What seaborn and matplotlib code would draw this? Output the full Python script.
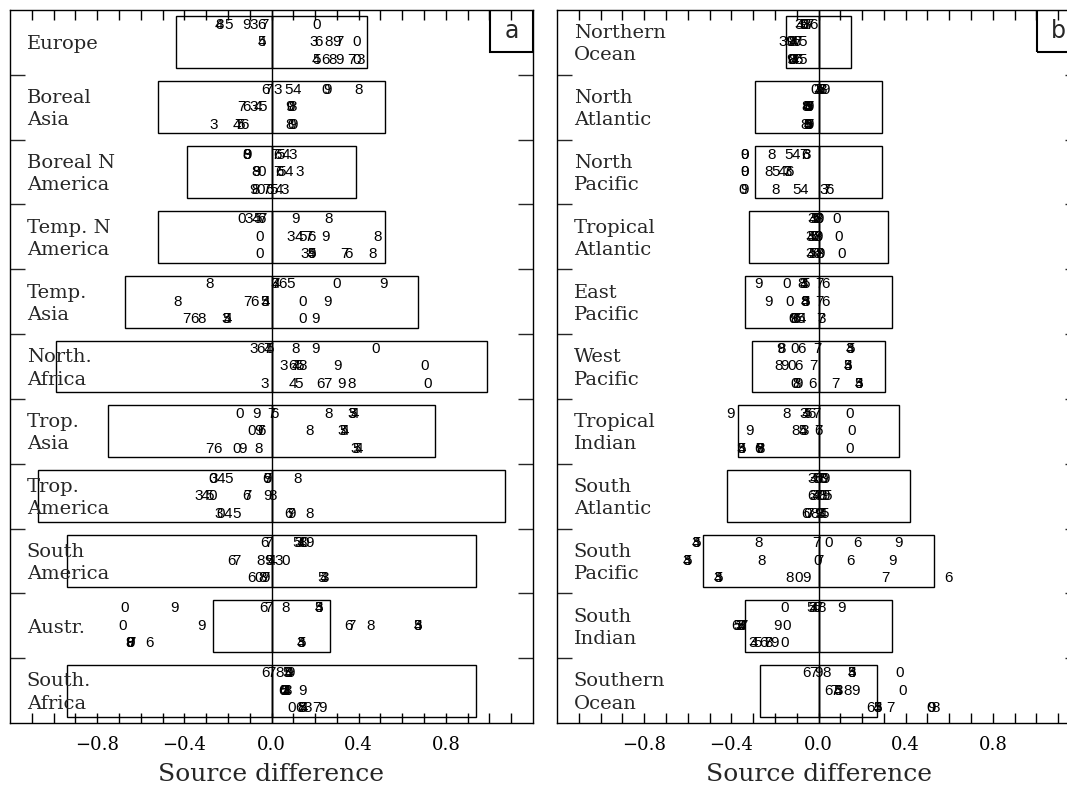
import matplotlib
matplotlib.use("Agg")
import matplotlib.pyplot as plt
from matplotlib.patches import Rectangle
import numpy as np
import pandas as pd
import seaborn as sns

# digit markers, one per experiment; every value list below follows this order
DIGITS = ["3", "4", "5", "6", "7", "8", "9", "0"]

# ---------------------------------------------------------------------------
# Panel a: land regions (three rows of source differences per region)
# ---------------------------------------------------------------------------
REGIONS_A = ["Europe", "Boreal\nAsia", "Boreal N\nAmerica", "Temp. N\nAmerica",
             "Temp.\nAsia", "North.\nAfrica", "Trop.\nAsia", "Trop.\nAmerica",
             "South\nAmerica", "Austr.", "South.\nAfrica"]
BOX_A = [0.44, 0.52, 0.39, 0.52, 0.67, 0.99, 0.75, 1.07, 0.94, 0.27, 0.94]

EUROPE = [[-0.083, -0.243, -0.195, -0.048, -0.032, -0.237, -0.115, 0.205],
          [0.195, -0.045, -0.045, 0.216, 0.312, 0.264, 0.296, 0.392],
          [0.408, 0.205, 0.205, 0.248, 0.368, 0.28, 0.312, 0.392]]
BOREAL_ASIA = [[0.029, 0.115, 0.08, -0.029, -0.013, 0.40, 0.256, 0.25],
               [-0.08, -0.061, -0.04, -0.115, -0.136, 0.096, 0.083, 0.09],
               [-0.264, -0.16, -0.144, -0.125, -0.15, 0.085, 0.10, 0.092]]
BOREAL_N_AMERICA = [[0.096, 0.064, 0.04, 0.029, 0.016, -0.112, -0.11, -0.112],
                    [0.128, 0.08, 0.048, 0.035, 0.029, -0.072, -0.07, -0.045],
                    [0.061, 0.035, 0.008, -0.008, -0.024, -0.072, -0.083, -0.048]]
TEMP_N_AMERICA = [[-0.104, -0.072, -0.064, -0.048, -0.04, 0.261, 0.112, -0.136],
                  [0.088, 0.125, 0.144, 0.184, 0.168, 0.488, 0.248, -0.056],
                  [0.152, 0.18, 0.184, 0.352, 0.336, 0.464, 0.184, -0.056]]
TEMP_ASIA = [[0.016, 0.02, 0.088, 0.051, 0.016, -0.285, 0.515, 0.30],
             [-0.03, -0.025, -0.03, -0.077, -0.112, -0.429, 0.259, 0.144],
             [-0.208, -0.20, -0.205, -0.355, -0.392, -0.32, 0.20, 0.141]]
NORTH_AFRICA = [[-0.083, -0.015, -0.01, -0.051, -0.02, 0.112, 0.20, 0.48],
                [0.056, 0.112, 0.128, 0.096, 0.11, 0.144, 0.304, 0.704],
                [-0.032, 0.096, 0.125, 0.224, 0.256, 0.368, 0.32, 0.717]]
TROP_ASIA = [[0.368, 0.384, 0.37, 0.012, 0.0, 0.264, -0.067, -0.144],
             [0.32, 0.336, 0.33, -0.045, -0.05, 0.176, -0.058, -0.093],
             [0.384, 0.40, 0.392, -0.248, -0.285, -0.061, -0.131, -0.16]]
TROP_AMERICA = [[-0.266, -0.232, -0.195, -0.024, -0.019, 0.12, -0.02, -0.27],
                [-0.336, -0.304, -0.285, -0.115, -0.11, 0.003, -0.019, -0.272],
                [-0.24, -0.20, -0.16, 0.08, 0.088, 0.176, 0.09, -0.235]]
SOUTH_AMERICA = [[0.125, 0.136, 0.115, -0.032, -0.013, 0.144, 0.176, 0.152],
                 [0.032, 0.0, -0.008, -0.184, -0.16, -0.048, -0.016, 0.064],
                 [0.245, 0.24, 0.232, -0.093, -0.03, -0.04, -0.029, -0.061]]
AUSTRALIA = [[0.216, 0.216, 0.216, -0.035, -0.016, 0.067, -0.445, -0.675],
             [0.672, 0.672, 0.672, 0.352, 0.368, 0.456, -0.323, -0.685],
             [0.136, 0.136, 0.136, -0.56, -0.645, -0.651, -0.651, -0.648]]
SOUTH_AFRICA = [[0.075, 0.08, 0.07, -0.029, 0.0, 0.035, 0.085, 0.08],
                [0.065, 0.07, 0.06, 0.05, 0.06, 0.075, 0.141, 0.055],
                [0.168, 0.15, 0.144, 0.128, 0.208, 0.14, 0.232, 0.093]]

# ---------------------------------------------------------------------------
# Panel b: ocean regions
# ---------------------------------------------------------------------------
REGIONS_B = ["Northern\nOcean", "North\nAtlantic", "North\nPacific",
             "Tropical\nAtlantic", "East\nPacific", "West\nPacific",
             "Tropical\nIndian", "South\nAtlantic", "South\nPacific",
             "South\nIndian", "Southern\nOcean"]
BOX_B = [0.15, 0.29, 0.29, 0.32, 0.335, 0.305, 0.37, 0.42, 0.53, 0.335, 0.27]

NORTHERN_OCEAN = [[-0.092, -0.085, -0.069, -0.023, -0.04, -0.054, -0.07, -0.065],
                  [-0.162, -0.115, -0.075, -0.10, -0.095, -0.12, -0.135, -0.128],
                  [-0.118, -0.11, -0.075, -0.09, -0.10, -0.12, -0.13, -0.125]]
NORTH_ATLANTIC = [[-0.005, 0.0, 0.005, 0.01, 0.012, 0.018, 0.03, -0.02],
                  [-0.045, -0.048, -0.05, -0.045, -0.042, -0.06, -0.04, -0.055],
                  [-0.05, -0.048, -0.045, -0.05, -0.042, -0.062, -0.04, -0.05]]
NORTH_PACIFIC = [[-0.055, -0.105, -0.138, -0.06, -0.069, -0.215, -0.338, -0.338],
                 [-0.14, -0.166, -0.197, -0.135, -0.146, -0.231, -0.341, -0.341],
                 [0.023, -0.069, -0.10, 0.049, 0.035, -0.197, -0.34, -0.346]]
TROPICAL_ATLANTIC = [[-0.03, -0.025, -0.02, -0.01, -0.005, 0.0, 0.005, 0.085],
                     [-0.04, -0.035, -0.03, -0.02, -0.01, -0.005, 0.0, 0.092],
                     [-0.04, -0.035, -0.025, -0.01, 0.0, 0.005, 0.01, 0.108]]
EAST_PACIFIC = [[-0.069, -0.065, -0.06, 0.03, 0.003, -0.078, -0.277, -0.146],
                [-0.06, -0.062, -0.058, 0.033, 0.005, -0.065, -0.228, -0.131],
                [0.015, -0.075, -0.08, -0.10, 0.008, -0.11, -0.115, -0.12]]
WEST_PACIFIC = [[0.145, 0.145, 0.145, -0.077, -0.003, -0.17, -0.175, -0.11],
                [0.135, 0.135, 0.135, -0.092, -0.023, -0.182, -0.157, -0.123],
                [0.185, 0.185, 0.185, -0.028, 0.077, -0.10, -0.092, -0.11]]
TROPICAL_INDIAN = [[-0.07, -0.06, -0.05, -0.03, -0.01, -0.146, -0.403, 0.142],
                   [-0.065, -0.07, -0.075, 0.0, -0.002, -0.105, -0.315, 0.151],
                   [-0.357, -0.35, -0.355, -0.275, -0.27, -0.265, -0.27, 0.142]]
SOUTH_ATLANTIC = [[-0.03, -0.02, -0.01, 0.0, 0.01, 0.02, 0.03, 0.025],
                  [-0.02, -0.01, 0.04, -0.03, 0.0, 0.02, 0.03, 0.01],
                  [0.01, 0.02, 0.03, -0.06, -0.04, -0.02, 0.0, -0.05]]
SOUTH_PACIFIC = [[-0.562, -0.562, -0.56, 0.177, -0.008, -0.274, 0.369, 0.046],
                 [-0.603, -0.603, -0.60, 0.146, 0.003, -0.262, 0.338, -0.005],
                 [-0.462, -0.462, -0.46, 0.597, 0.308, -0.131, -0.054, -0.092]]
SOUTH_INDIAN = [[-0.028, -0.02, -0.035, -0.01, 0.0, 0.015, 0.105, -0.157],
                [-0.36, -0.35, -0.37, -0.38, -0.345, -0.355, -0.188, -0.146],
                [-0.30, -0.295, -0.28, -0.254, -0.235, -0.23, -0.20, -0.154]]
SOUTHERN_OCEAN = [[0.154, 0.154, 0.154, -0.054, -0.023, 0.038, 0.0, 0.372],
                  [0.092, 0.09, 0.089, 0.046, 0.074, 0.135, 0.169, 0.385],
                  [0.27, 0.27, 0.27, 0.238, 0.331, 0.538, 0.52, 0.515]]

VALUES_A = [EUROPE, BOREAL_ASIA, BOREAL_N_AMERICA, TEMP_N_AMERICA, TEMP_ASIA,
            NORTH_AFRICA, TROP_ASIA, TROP_AMERICA, SOUTH_AMERICA, AUSTRALIA,
            SOUTH_AFRICA]
VALUES_B = [NORTHERN_OCEAN, NORTH_ATLANTIC, NORTH_PACIFIC, TROPICAL_ATLANTIC,
            EAST_PACIFIC, WEST_PACIFIC, TROPICAL_INDIAN, SOUTH_ATLANTIC,
            SOUTH_PACIFIC, SOUTH_INDIAN, SOUTHERN_OCEAN]

SUBROW_OFFSET = [-0.27, 0.0, 0.27]
XTICKS = np.round(np.arange(-1.1, 1.11, 0.1), 1)
XLABELED = [-0.8, -0.4, 0.0, 0.4, 0.8]


def long_table(regions, values):
    rows = []
    for i, (reg, block) in enumerate(zip(regions, values)):
        for j, sub in enumerate(block):
            for d, v in zip(DIGITS, sub):
                rows.append({"region": reg, "pos": i + SUBROW_OFFSET[j],
                             "digit": d, "diff": v})
    return pd.DataFrame(rows)


def draw_panel(ax, regions, boxes, values, tag):
    box = pd.DataFrame({"region": regions, "half": boxes})
    # boxes centred on zero: two outline bars, one each side
    sns.barplot(data=box, x=-box["half"], y="region", orient="h", fill=False,
                color="black", linewidth=1.0, width=0.8, errorbar=None, ax=ax)
    sns.barplot(data=box, x=box["half"], y="region", orient="h", fill=False,
                color="black", linewidth=1.0, width=0.8, errorbar=None, ax=ax)
    ax.axvline(0, color="black", lw=1.0, zorder=3)

    df = long_table(regions, values)
    for _, r in df.iterrows():
        ax.text(r["diff"], r["pos"], r["digit"], ha="center", va="center",
                fontsize=11, family="Liberation Sans", color="black", zorder=4)

    ytr = ax.get_yaxis_transform()
    for i, reg in enumerate(regions):
        ax.text(0.032, i + 0.03, reg, transform=ytr, ha="left", va="center",
                fontsize=14, family="DejaVu Serif", linespacing=1.3)

    ax.set_xlim(-1.2, 1.2)
    ax.set_ylim(10.5, -0.5)
    ax.set_yticks(np.arange(0.5, 10, 1.0))
    ax.set_yticklabels([])
    ax.set_ylabel("")
    ax.set_xticks(XTICKS)
    ax.set_xticklabels([f"{t:.1f}".replace("-", "\u2212") if t in XLABELED else ""
                        for t in XTICKS])
    ax.tick_params(axis="x", direction="in", top=True, bottom=True, length=7,
                   width=1, labelsize=13, pad=9, colors="black")
    ax.tick_params(axis="y", direction="in", left=True, right=True, length=11,
                   width=1, labelleft=False)
    ax.set_xlabel("Source difference", fontsize=18, labelpad=6.5)
    for s in ax.spines.values():
        s.set_visible(True)
        s.set_color("black")
        s.set_linewidth(1.0)

    ax.add_patch(Rectangle((0.918, 0.941), 0.082, 0.059, transform=ax.transAxes,
                           fill=False, edgecolor="black", lw=1.5, zorder=5))
    ax.text(0.959, 0.971, tag, transform=ax.transAxes, ha="center", va="center",
            fontsize=17, family="DejaVu Sans")


sns.set_theme(style="ticks")
plt.rcParams["font.family"] = ["DejaVu Serif"]

fig = plt.figure(figsize=(10.67, 7.86), dpi=100)
ax_a = fig.add_axes([10 / 1067, 63 / 786, 523 / 1067, 713 / 786])
ax_b = fig.add_axes([557 / 1067, 63 / 786, 523 / 1067, 713 / 786])

draw_panel(ax_a, REGIONS_A, BOX_A, VALUES_A, "a")
draw_panel(ax_b, REGIONS_B, BOX_B, VALUES_B, "b")

fig.savefig("out.png", dpi=100)
